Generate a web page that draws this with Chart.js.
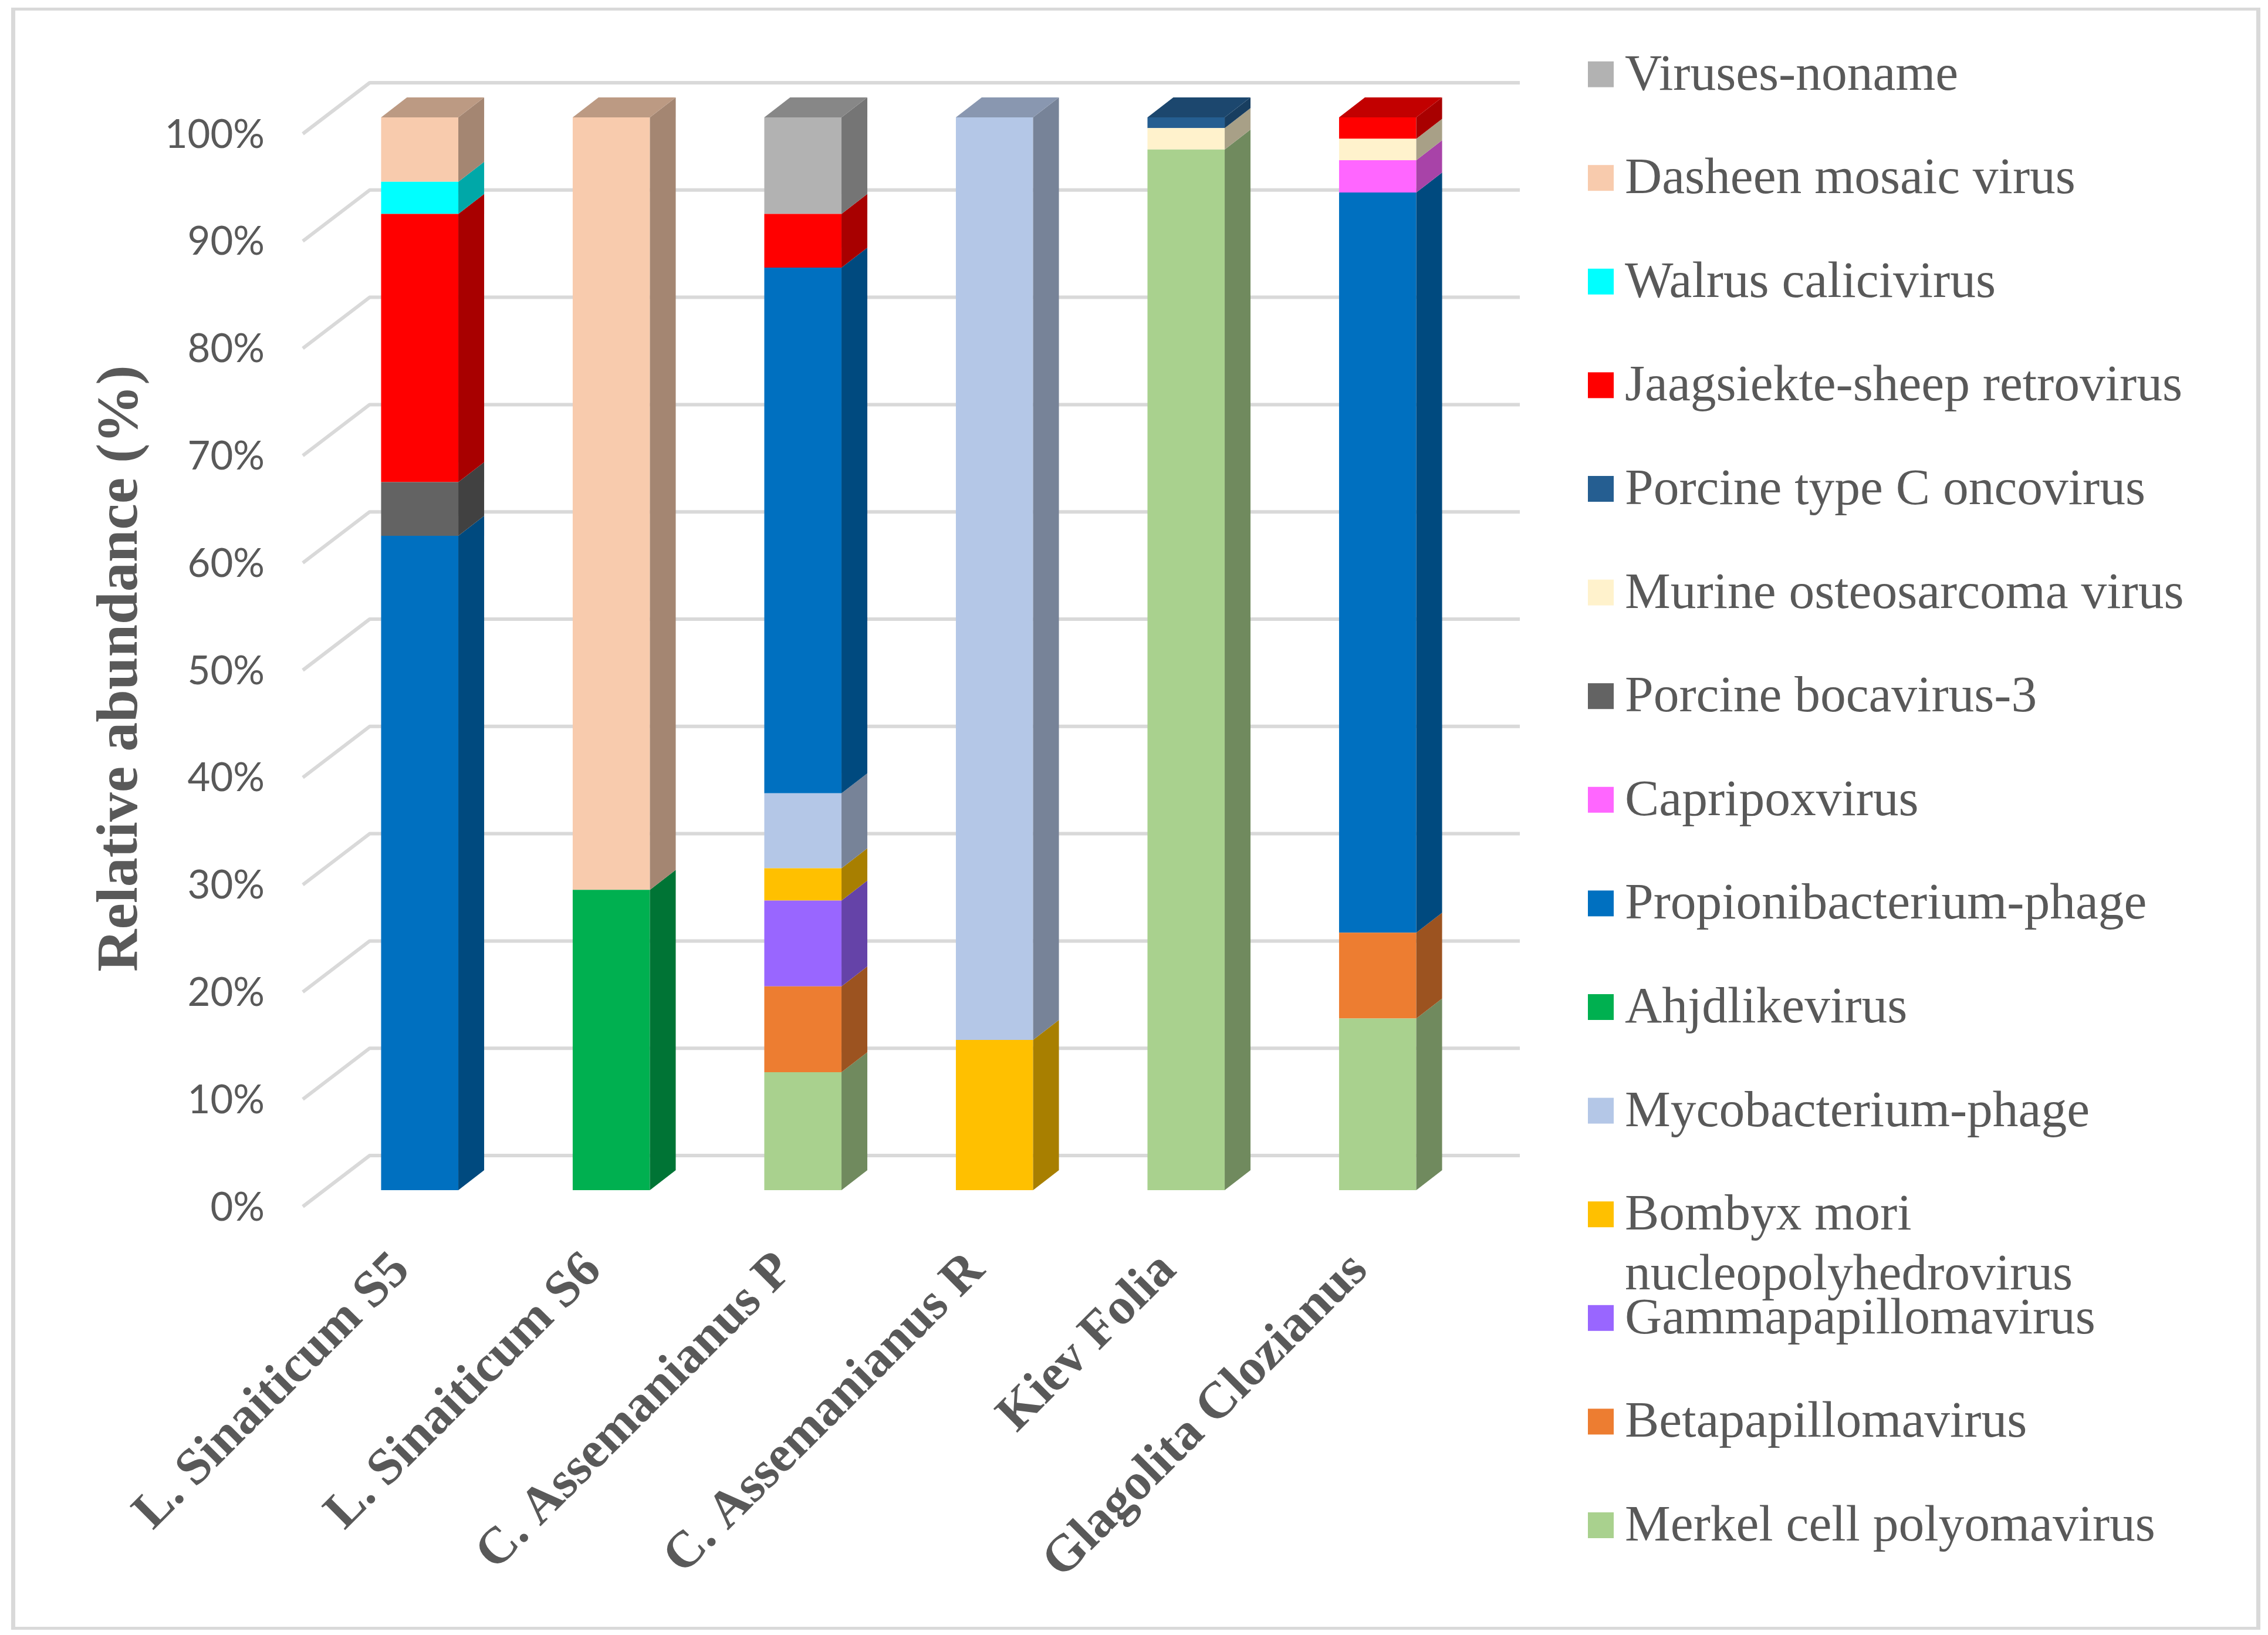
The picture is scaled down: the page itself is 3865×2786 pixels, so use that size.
<!DOCTYPE html>
<html>
<head>
<meta charset="utf-8">
<title>Relative abundance</title>
<script src="https://cdn.jsdelivr.net/npm/chart.js@4/dist/chart.umd.min.js"></script>
<style>
html, body { margin:0; padding:0; background:#fff; }
#wrap { position:relative; width:3865px; height:2786px; overflow:hidden; }
#frame { position:absolute; left:19px; top:13px; width:3819px; height:2754px; border:solid #d9d9d9; border-width:5px 7px; }
canvas { position:absolute; left:0; top:0; }
</style>
</head>
<body>
<div id="wrap">
<div id="frame"></div>
<canvas id="chart" width="3865" height="2786"></canvas>
</div>
<script>
// --- Data ---
const categories = ['L. Sinaiticum S5', 'L. Sinaiticum S6', 'C. Assemanianus P', 'C. Assemanianus R', 'Kiev Folia', 'Glagolita Clozianus'];
const yTickLabels = ['0%', '10%', '20%', '30%', '40%', '50%', '60%', '70%', '80%', '90%', '100%'];

// stack order, bottom to top
const merkel   = [0, 0, 11, 0, 97, 16];
const beta     = [0, 0, 8, 0, 0, 8];
const gamma    = [0, 0, 8, 0, 0, 0];
const bombyx   = [0, 0, 3, 14, 0, 0];
const myco     = [0, 0, 7, 86, 0, 0];
const ahjd     = [0, 28, 0, 0, 0, 0];
const propioni = [61, 0, 49, 0, 0, 69];
const capri    = [0, 0, 0, 0, 0, 3];
const boca     = [5, 0, 0, 0, 0, 0];
const murine   = [0, 0, 0, 0, 2, 2];
const porcineC = [0, 0, 0, 0, 1, 0];
const jaag     = [25, 0, 5, 0, 0, 2];
const walrus   = [3, 0, 0, 0, 0, 0];
const dasheen  = [6, 72, 0, 0, 0, 0];
const viruses  = [0, 0, 9, 0, 0, 0];

const seriesValues = [merkel, beta, gamma, bombyx, myco, ahjd, propioni, capri, boca, murine, porcineC, jaag, walrus, dasheen, viruses];
const seriesNames = ['Merkel cell polyomavirus', 'Betapapillomavirus', 'Gammapapillomavirus', 'Bombyx mori\nnucleopolyhedrovirus',
    'Mycobacterium-phage', 'Ahjdlikevirus', 'Propionibacterium-phage', 'Capripoxvirus', 'Porcine bocavirus-3',
    'Murine osteosarcoma virus', 'Porcine type C oncovirus', 'Jaagsiekte-sheep retrovirus', 'Walrus calicivirus',
    'Dasheen mosaic virus', 'Viruses-noname'];
const seriesColors = ['#A9D18E', '#ED7D31', '#9966FF', '#FFC000', '#B4C7E7', '#00B050', '#0070C0', '#FF66FF', '#636363',
    '#FFF2CC', '#255E91', '#FF0000', '#00FFFF', '#F8CBAD', '#B2B2B2'];

// --- Look ---
const TEXT = '#595959';
const GRID = '#d9d9d9';
const SERIF = "'Liberation Serif', serif";
const DX = 44, DY = 34;      // bar depth
const WALL_X = 630, WALL_END = 2590, WALL_DY = 59;  // back wall
const FLOOR_X = 516, FLOOR_DY = 28;                 // front edge of side wall

function shade(hex, f) {
    const n = parseInt(hex.slice(1), 16);
    const c = [n >> 16, (n >> 8) & 255, n & 255].map(v => Math.round(v * f));
    return `rgb(${c[0]},${c[1]},${c[2]})`;
}

function poly(ctx, pts, color) {
    ctx.fillStyle = color;
    ctx.beginPath();
    pts.forEach((p, i) => i ? ctx.lineTo(p[0], p[1]) : ctx.moveTo(p[0], p[1]));
    ctx.closePath();
    ctx.fill();
}

// gridlines run over the side wall and the back wall
const wallGrid = {
    id: 'wallGrid',
    beforeDatasetsDraw(chart) {
        const ctx = chart.ctx, y = chart.scales.y;
        ctx.save();
        ctx.strokeStyle = GRID;
        ctx.lineWidth = 6;
        ctx.lineJoin = 'round';
        y.ticks.forEach(t => {
            const py = y.getPixelForValue(t.value);
            ctx.beginPath();
            ctx.moveTo(FLOOR_X, py + FLOOR_DY);
            ctx.lineTo(WALL_X, py - WALL_DY);
            ctx.lineTo(WALL_END, py - WALL_DY);
            ctx.stroke();
        });
        ctx.restore();
    }
};

// side and top faces of the stacked bars
const barDepth = {
    id: 'barDepth',
    afterDatasetsDraw(chart) {
        const ctx = chart.ctx;
        const topSeries = categories.map(() => -1);
        ctx.save();
        chart.data.datasets.forEach((ds, d) => {
            chart.getDatasetMeta(d).data.forEach((bar, i) => {
                if (!ds.data[i]) return;
                topSeries[i] = d;
                const r = bar.x + bar.width / 2;
                poly(ctx, [[r, bar.y], [r + DX, bar.y - DY], [r + DX, bar.base - DY], [r, bar.base]], shade(ds.backgroundColor, 0.66));
            });
        });
        topSeries.forEach((d, i) => {
            const bar = chart.getDatasetMeta(d).data[i];
            const l = bar.x - bar.width / 2, r = bar.x + bar.width / 2;
            poly(ctx, [[l, bar.y], [l + DX, bar.y - DY], [r + DX, bar.y - DY], [r, bar.y]], shade(chart.data.datasets[d].backgroundColor, 0.76));
        });
        ctx.restore();
    }
};

// legend with fixed rows, the long name runs into the next row like in the original
const sideLegend = {
    id: 'sideLegend',
    afterDraw(chart) {
        const ctx = chart.ctx;
        ctx.save();
        ctx.font = `87.5px ${SERIF}`;
        ctx.textBaseline = 'alphabetic';
        ctx.textAlign = 'left';
        seriesNames.forEach((name, i) => {
            const cy = 2599 - i * 176.6;
            ctx.fillStyle = seriesColors[i];
            ctx.fillRect(2706, cy - 22, 44, 44);
            ctx.fillStyle = TEXT;
            name.split('\n').forEach((line, k) => ctx.fillText(line, 2769, cy + 26 + k * 102));
        });
        ctx.restore();
    }
};

new Chart(document.getElementById('chart'), {
    type: 'bar',
    data: {
        labels: categories,
        datasets: seriesValues.map((v, i) => ({
            label: seriesNames[i].replace('\n', ' '),
            data: v,
            backgroundColor: seriesColors[i],
            borderWidth: 0,
            barPercentage: 0.403,
            categoryPercentage: 1
        }))
    },
    options: {
        responsive: false,
        devicePixelRatio: 1,
        animation: false,
        layout: { padding: { top: 200, left: 0, right: 1354, bottom: 0 } },
        plugins: { legend: { display: false }, tooltip: { enabled: false } },
        scales: {
            x: {
                stacked: true,
                grid: { display: false },
                border: { display: false },
                afterFit: s => { s.height = 758; },
                ticks: {
                    color: TEXT,
                    font: { family: SERIF, size: 88, weight: 'bold' },
                    minRotation: 45, maxRotation: 45,
                    autoSkip: false,
                    padding: 78,
                    labelOffset: -30
                }
            },
            y: {
                stacked: true,
                min: 0,
                max: 100,
                grid: { display: false },
                border: { display: false },
                afterFit: s => { s.width = 552; },
                title: {
                    display: true,
                    text: 'Relative abundance (%)  ',
                    color: TEXT,
                    font: { family: SERIF, size: 100, weight: 'bold' },
                    padding: { top: 147, bottom: 0 }
                },
                ticks: {
                    color: TEXT,
                    font: { family: 'Lato', size: 67 },
                    stepSize: 10,
                    padding: 93,
                    labelOffset: 30,
                    callback: (v, i) => yTickLabels[i]
                }
            }
        }
    },
    plugins: [wallGrid, barDepth, sideLegend]
});
</script>
</body>
</html>
